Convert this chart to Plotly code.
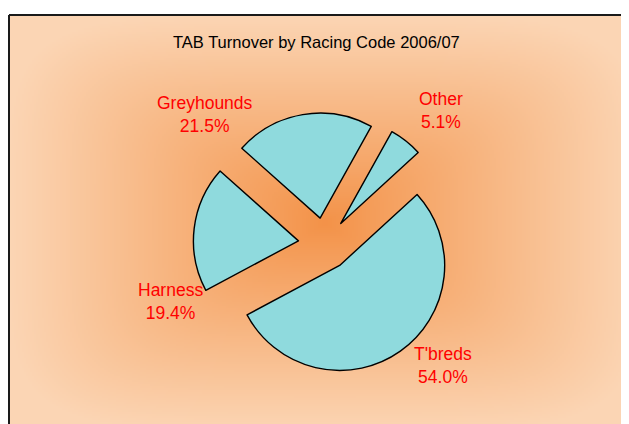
import base64
import struct
import zlib

import numpy as np
import plotly.graph_objects as go

# ---------------- data ----------------
categories = ["T'breds", "Harness", "Greyhounds", "Other"]
shares = [54.0, 19.4, 21.5, 5.1]
chart_title = "TAB Turnover by Racing Code 2006/07"

# ---------------- page geometry ----------------
# the page body keeps its default 8px margin, so the figure starts at (8, 8)
OFF = 8
W, H = 629 - OFF, 424 - OFF
AREA_X0, AREA_Y0 = 9, 15          # top-left corner of the chart area (page px)
AREA_X1, AREA_Y1 = 641, 431       # chart area runs slightly past the crop


def px_x(x):
    return (x - OFF) / W


def px_y(y):
    return 1 - (y - OFF) / H


# ---------------- background gradient (rectangular "from centre") ----------------
def make_png(rgb):
    h, w, _ = rgb.shape
    raw = b"".join(b"\x00" + rgb[r].tobytes() for r in range(h))

    def chunk(tag, data):
        c = struct.pack(">I", len(data)) + tag + data
        return c + struct.pack(">I", zlib.crc32(tag + data) & 0xFFFFFFFF)

    return (b"\x89PNG\r\n\x1a\n"
            + chunk(b"IHDR", struct.pack(">IIBBBBB", w, h, 8, 2, 0, 0, 0))
            + chunk(b"IDAT", zlib.compress(raw, 9))
            + chunk(b"IEND", b""))


gw, gh = (AREA_X1 - AREA_X0) // 2, (AREA_Y1 - AREA_Y0) // 2
gx = np.linspace(-1, 1, gw)[None, :]
gy = np.linspace(-1, 1, gh)[:, None]
p = 5.0
t = np.clip((np.abs(gx) ** p + np.abs(gy) ** p) ** (1 / p), 0, 1) ** 0.95
c0 = np.array([243, 146, 72], float)
c1 = np.array([251, 213, 180], float)
img = (c0[None, None, :] + (c1 - c0)[None, None, :] * t[..., None]).round().astype(np.uint8)
bg_src = "data:image/png;base64," + base64.b64encode(make_png(img)).decode()

# ---------------- pie ----------------
R = 105                 # slice radius px
PULL = 0.25
CX, CY = 324.5, 244     # pie centre (page px)
half = R * (1 + PULL)

fig = go.Figure(
    go.Pie(
        labels=categories,
        values=shares,
        sort=False,
        direction="clockwise",
        rotation=47.5,
        pull=PULL,
        textinfo="none",
        hoverinfo="label+percent",
        marker=dict(colors=["#8fdadd"] * len(categories),
                    line=dict(color="#000000", width=1.4)),
        domain=dict(x=[px_x(CX - half), px_x(CX + half)],
                    y=[px_y(CY + half), px_y(CY - half)]),
        showlegend=False,
    )
)

FONT = "Liberation Sans, Arial, sans-serif"

label_pos = {"T'breds": (443, 365), "Harness": (170, 301),
             "Greyhounds": (205, 115), "Other": (441, 110)}
annotations = []
for cat, val in zip(categories, shares):
    lx, ly = label_pos[cat]
    annotations.append(dict(
        text=f"{cat}<br>{val:.1f}%", x=px_x(lx), y=px_y(ly),
        xref="paper", yref="paper", xanchor="center", yanchor="middle",
        showarrow=False, font=dict(family=FONT, size=17.5, color="#ff0000")))

annotations.append(dict(
    text=chart_title, x=px_x(316), y=px_y(42), xref="paper", yref="paper",
    xanchor="center", yanchor="middle", showarrow=False,
    font=dict(family=FONT, size=16.5, color="#000000")))

fig.update_layout(
    width=W, height=H,
    margin=dict(l=0, r=0, t=0, b=0),
    paper_bgcolor="#ffffff",
    plot_bgcolor="rgba(0,0,0,0)",
    images=[dict(source=bg_src, xref="paper", yref="paper",
                 x=px_x(AREA_X0), y=px_y(AREA_Y0),
                 sizex=(AREA_X1 - AREA_X0) / W, sizey=(AREA_Y1 - AREA_Y0) / H,
                 xanchor="left", yanchor="top", sizing="stretch", layer="below")],
    shapes=[
        dict(type="line", xref="paper", yref="paper",
             x0=px_x(AREA_X0), x1=px_x(640), y0=px_y(AREA_Y0), y1=px_y(AREA_Y0),
             line=dict(color="#1a1a1a", width=2)),
        dict(type="line", xref="paper", yref="paper",
             x0=px_x(AREA_X0), x1=px_x(AREA_X0), y0=px_y(AREA_Y0), y1=px_y(440),
             line=dict(color="#1a1a1a", width=2)),
    ],
    annotations=annotations,
)

fig.write_html("out.html")
